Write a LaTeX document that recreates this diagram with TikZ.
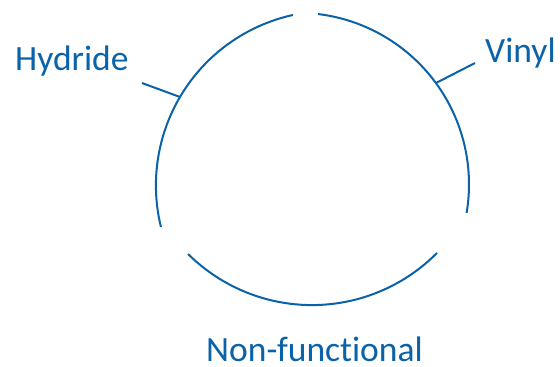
\documentclass[tikz,border=0pt]{standalone}
\usepackage{fontspec}
\setmainfont[Ligatures={NoCommon}]{Carlito}
\definecolor{cycblue}{RGB}{10,98,168}
\begin{document}
\begin{tikzpicture}[x=1pt,y=-1pt,
  seg/.style={draw=cycblue,line width=2pt},
  leader/.style={draw=cycblue,line width=2pt},
  lbl/.style={text=cycblue,inner sep=0pt,text depth=0pt,font=\fontsize{35.5}{40}\selectfont}]
  \useasboundingbox (0,0) rectangle (560,367);

  % three arc segments of the cycle
  \draw[seg] (297.5,184.3) ++(-83.1:171.5) arc[start angle=-83.1,end angle=9.6,radius=171.5];
  \draw[seg] (312,129.2) ++(44.7:175.9) arc[start angle=44.7,end angle=134.8,radius=175.9];
  \draw[seg] (330.4,185.4) ++(166.2:174.5) arc[start angle=166.2,end angle=257.6,radius=174.5];

  % labels
  \node[lbl,anchor=base west] (hyd) at (15,70) {Hydride};
  \node[lbl,anchor=base west] (vin) at (485,62) {Vinyl};
  \node[lbl,anchor=base] (non) at (314.5,361) {Non-functional};

  % leader lines from labels to the ring
  \coordinate (hydEnd) at (142,83);
  \coordinate (hydRing) at (180,97);
  \coordinate (vinEnd) at (475,63);
  \coordinate (vinRing) at (436,83);
  \draw[leader] (hydEnd) -- (hydRing);
  \draw[leader] (vinEnd) -- (vinRing);
\end{tikzpicture}
\end{document}
